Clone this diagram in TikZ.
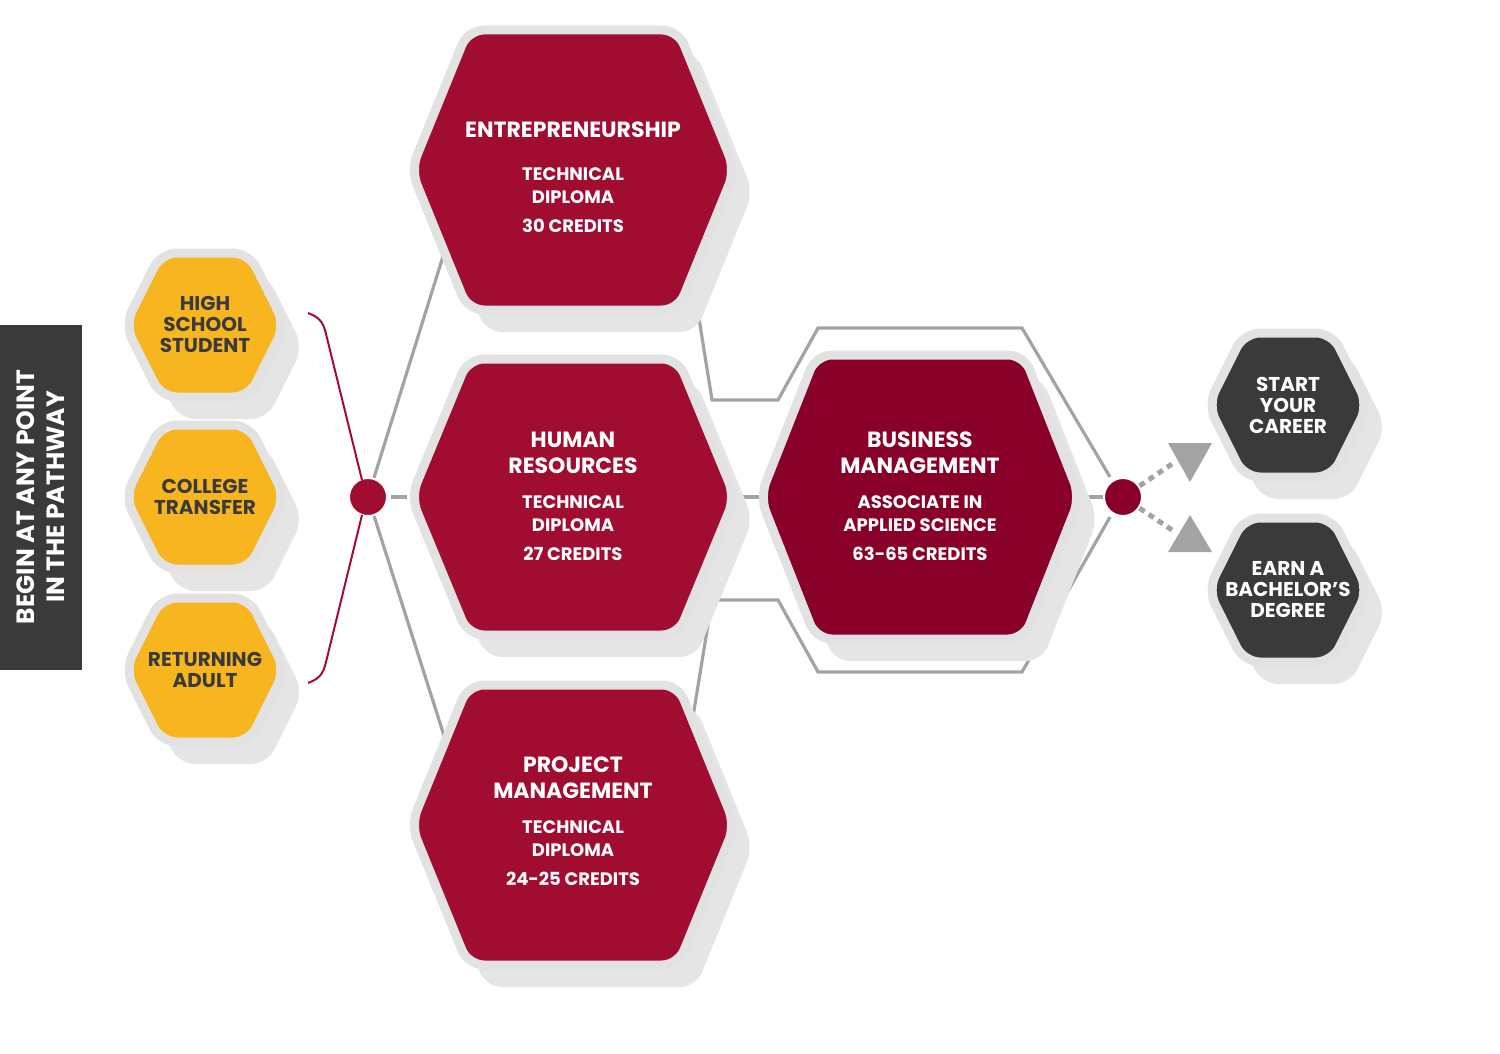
\documentclass[tikz,border=0pt]{standalone}
\usepackage{fontspec}
\setmainfont{Poppins}
\definecolor{crim}{HTML}{A00D30}
\definecolor{dcrim}{HTML}{880028}
\definecolor{gold}{HTML}{F7B51F}
\definecolor{dgray}{HTML}{3A3A3A}
\definecolor{lgray}{HTML}{E2E2E2}
\definecolor{lineg}{HTML}{A3A3A3}
\newcommand\hexa[6]{% name, x, y, halfwidth, halftop, halfheight
  \fill[black!10,rounded corners=8pt] ($(#2,#3)+(18,22)+(-#4,0)$) -- ++(#4-#5,-#6) -- ++(2*#5,0) -- ++(#4-#5,#6) -- ++(-#4+#5,#6) -- ++(-2*#5,0) -- cycle;
  \filldraw[hexb,fill=#1] ($(#2,#3)+(-#4,0)$) -- ++(#4-#5,-#6) -- ++(2*#5,0) -- ++(#4-#5,#6) -- ++(-#4+#5,#6) -- ++(-2*#5,0) -- cycle;}
\usetikzlibrary{calc}
\begin{document}
\begin{tikzpicture}[x=0.5pt,y=-0.5pt,
  hexb/.style={draw=lgray,line width=4.5pt,line join=round,rounded corners=8pt},
  wt/.style={text=white,align=center,font=\bfseries\fontsize{11}{13}\selectfont},
  st/.style={text=white,align=center,font=\bfseries\fontsize{9}{11.5}\selectfont},
  yt/.style={text=dgray,align=center,font=\bfseries\fontsize{10}{10.5}\selectfont},
  dt/.style={text=white,align=center,font=\bfseries\fontsize{10}{10.5}\selectfont},
  gl/.style={draw=lineg,line width=1.6pt},
  dotn/.style={circle,fill=#1,draw=white,line width=1pt,minimum size=19pt,inner sep=0pt}]
\useasboundingbox (0,0) rectangle (1500,1054);
% left label
\fill[dgray] (0,325) rectangle (82,670);
\node[rotate=90,text=white,align=center,font=\bfseries\fontsize{12.5}{15}\selectfont] (lbl) at (41,497) {BEGIN AT ANY POINT\\IN THE PATHWAY};
% connectors (behind)
\node[dotn=crim] (d1) at (368,497) {};
\node[dotn=dcrim] (d2) at (1123,497) {};
\coordinate (eA) at (445,250); \coordinate (pA) at (447,745);
\draw[gl] (d1) -- (eA);
\draw[gl] (d1) -- (pA);
\draw[gl] (391,497) -- (407,497);
\draw[gl] (690,262) -- (712,400) -- (778,400) -- (818,328) -- (1022,328) -- (1110,477);
\draw[gl] (690,735) -- (712,600) -- (778,600) -- (818,672) -- (1022,672) -- (1110,517);
\draw[gl] (738,497) -- (762,497);
\draw[gl] (1085,497) -- (1103,497);
% hexagons
\hexa{crim}{573}{170}{162}{105}{140}
\hexa{crim}{573}{497}{162}{105}{138}
\hexa{crim}{573}{825}{162}{105}{140}
\hexa{dcrim}{920}{497}{160}{104}{142}
\hexa{gold}{205}{325}{80}{44}{72}
\hexa{gold}{205}{497}{80}{44}{72}
\hexa{gold}{205}{670}{80}{44}{72}
\hexa{dgray}{1288}{405}{80}{44}{72}
\hexa{dgray}{1288}{590}{80}{44}{72}
\node[dotn=crim] at (368,497) {};
\node[dotn=dcrim] at (1123,497) {};
% bracket
\draw[crim,line width=1pt] (308,313) .. controls (322,318) and (324,325) .. (327,338) -- (362,480);
\draw[crim,line width=1pt] (308,683) .. controls (322,678) and (324,671) .. (327,658) -- (362,515);
% triangles
\coordinate (t1) at (1190,455); \coordinate (t2) at (1190,538);
\fill[lineg] (1168,443) -- (1212,443) -- (1190,482) -- cycle;
\fill[lineg] (1168,552) -- (1212,552) -- (1190,515) -- cycle;
\draw[lineg,line width=2.5pt,dash pattern=on 3pt off 2.5pt] (d2) -- (1175,462);
\draw[lineg,line width=2.5pt,dash pattern=on 3pt off 2.5pt] (d2) -- (1175,532);
% texts
\node[wt] (ent) at (573,130) {ENTREPRENEURSHIP};
\node[st] (ent2) at (573,200) {TECHNICAL\\DIPLOMA\\[3pt]30 CREDITS};
\node[wt] (hr) at (573,453) {HUMAN\\RESOURCES};
\node[st] (hr2) at (573,528) {TECHNICAL\\DIPLOMA\\[3pt]27 CREDITS};
\node[wt] (pm) at (573,778) {PROJECT\\MANAGEMENT};
\node[st] (pm2) at (573,853) {TECHNICAL\\DIPLOMA\\[3pt]24-25 CREDITS};
\node[wt] (bm) at (920,453) {BUSINESS\\MANAGEMENT};
\node[st] (bm2) at (920,528) {ASSOCIATE IN\\APPLIED SCIENCE\\[3pt]63-65 CREDITS};
\node[yt] (hs) at (205,324) {HIGH\\SCHOOL\\STUDENT};
\node[yt] (ct) at (205,497) {COLLEGE\\TRANSFER};
\node[yt] (ra) at (205,670) {RETURNING\\ADULT};
\node[dt] (sc) at (1288,405) {START\\YOUR\\CAREER};
\node[dt] (eb) at (1288,590) {EARN A\\BACHELOR’S\\DEGREE};
\end{tikzpicture}
\end{document}
